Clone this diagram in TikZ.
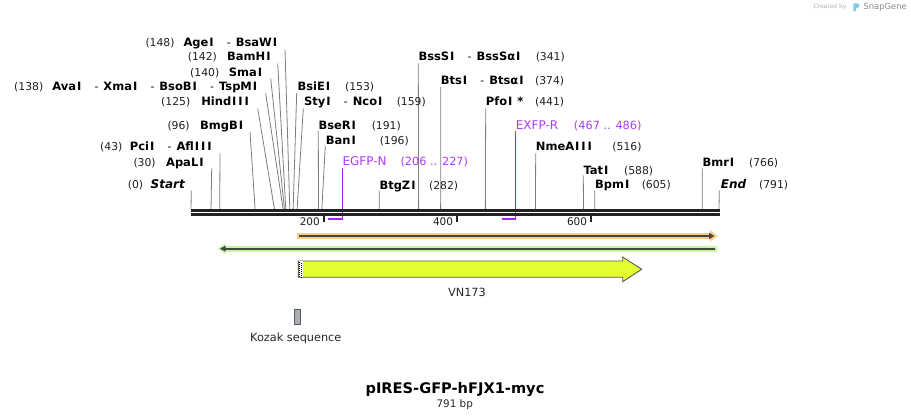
\documentclass[tikz,border=0pt]{standalone}
\usepackage{fontspec}
\setmainfont{DejaVu Sans}
\definecolor{cutc}{RGB}{125,125,125}
\definecolor{bbc}{RGB}{34,34,34}
\definecolor{prim}{RGB}{160,40,240}
\definecolor{primt}{RGB}{170,60,250}
\definecolor{orf}{RGB}{250,205,130}
\definecolor{grf}{RGB}{200,245,160}
\definecolor{dkf}{RGB}{70,70,70}
\definecolor{yel}{RGB}{225,255,50}
\definecolor{yb}{RGB}{90,90,90}
\definecolor{kz}{RGB}{170,174,182}
\definecolor{sglogo}{RGB}{125,205,245}
\newcommand\sepdash{\hspace{12.3pt}{\mdseries\fontsize{10.8}{13}\selectfont -}\hspace{5pt}}
\newcommand\wideI{\kern0.95pt I\kern0.95pt}
\newcommand\cutsite[4]{%
  \coordinate (#1t) at (#2,#3);
  \coordinate (#1b) at ({191+0.6675*#4},209);
  \draw[cutln] (#1t) -- (#1b);}
\tikzset{
  nm/.style={inner sep=0pt, font=\fontsize{11.5}{14}\selectfont\bfseries},
  nmi/.style={inner sep=0pt, font=\fontsize{12}{14}\selectfont\bfseries\itshape},
  num/.style={inner sep=0pt, font=\fontsize{10.8}{13}\selectfont, text=black!88},
  pnm/.style={inner sep=0pt, font=\fontsize{12}{14}\selectfont, text=primt},
  pnum/.style={inner sep=0pt, font=\fontsize{11.3}{13}\selectfont, text=primt},
  cutln/.style={draw=cutc, line width=0.8pt},
  primln/.style={draw=prim, line width=1.5pt},
  bbline/.style={draw=bbc, line width=2.6pt},
  tickln/.style={draw=bbc, line width=2pt},
  plain/.style={inner sep=0pt, font=\fontsize{11.3}{13}\selectfont, text=black!85}
}
\begin{document}
\begin{tikzpicture}[x=1pt,y=-1pt]
\useasboundingbox (0,0) rectangle (911,419);

% ---------- primers (under backbone) ----------
\coordinate (pEt) at (342.3,168.3);
\coordinate (pEc) at (342.3,219);
\coordinate (pEl) at (328,219);
\draw[primln] (pEt) -- (pEc) -- (pEl);
\coordinate (pRt) at (515.7,130.7);
\coordinate (pRc) at (515.7,219);
\coordinate (pRl) at (502,219);
\draw[primln] (pRt) -- (pRc) -- (pRl);

% ---------- cut site lines ----------
\cutsite{c148}{285}{49.5}{148}
\cutsite{c142}{277.7}{63.5}{142}
\cutsite{c140}{270.7}{78.5}{140}
\cutsite{c138}{265.7}{93.5}{138}
\cutsite{c125}{257.7}{108.5}{125}
\cutsite{c96}{250}{132}{96}
\cutsite{c43}{220}{153.5}{43}
\cutsite{c30}{211.7}{168.5}{30}
\cutsite{c0}{191.3}{190.7}{0}
\cutsite{c153}{296.7}{93}{153}
\cutsite{c159}{303.3}{108.3}{159}
\cutsite{c191}{318.3}{131}{191}
\cutsite{c196}{325.3}{146}{196}
\cutsite{c282}{379.3}{190.5}{282}
\cutsite{c341}{418.3}{63.5}{341}
\cutsite{c374}{440.7}{87}{374}
\cutsite{c441}{485.7}{108.5}{441}
\cutsite{c516}{535.7}{153.5}{516}
\cutsite{c588}{583.3}{175.5}{588}
\cutsite{c605}{594.7}{190.3}{605}
\cutsite{c766}{702.3}{168.5}{766}
\cutsite{c791}{719.3}{190.5}{791}

% ---------- backbone ----------
\coordinate (bbL1) at (191,210.3);
\coordinate (bbR1) at (720,210.3);
\coordinate (bbL2) at (191,214.3);
\coordinate (bbR2) at (720,214.3);
\draw[bbline] (bbL1) -- (bbR1);
\draw[bbline] (bbL2) -- (bbR2);

% ticks
\draw[tickln] (323.8,215.5) -- (323.8,221.7);
\draw[tickln] (457.2,215.5) -- (457.2,221.7);
\draw[tickln] (591,215.5) -- (591,221.7);
\node[num, font=\fontsize{10.5}{12}\selectfont, anchor=base east] (t200) at (320,225.7) {200};
\node[num, font=\fontsize{10.5}{12}\selectfont, anchor=base east] (t400) at (453.3,225.7) {400};
\node[num, font=\fontsize{10.5}{12}\selectfont, anchor=base east] (t600) at (587.3,225.7) {600};

% ---------- left labels ----------
\node[num, anchor=base west] (n148) at (145.3,47) {(148)};
\node[nm, anchor=base east] (l148) at (278.3,47) {Age\wideI\sepdash BsaW\wideI};
\node[num, anchor=base west] (n142) at (187.7,61) {(142)};
\node[nm, anchor=base east] (l142) at (271.7,61) {BamH\wideI};
\node[num, anchor=base west] (n140) at (190,76.6) {(140)};
\node[nm, anchor=base east] (l140) at (263.3,76.6) {Sma\wideI};
\node[num, anchor=base west] (n138) at (14,91) {(138)};
\node[nm, anchor=base east] (l138) at (258.3,91) {Ava\wideI\sepdash Xma\wideI\sepdash BsoB\wideI\sepdash TspM\wideI};
\node[num, anchor=base west] (n125) at (161,106) {(125)};
\node[nm, anchor=base east] (l125) at (250,106) {Hind\wideI\wideI\wideI};
\node[num, anchor=base west] (n96) at (167.3,130) {(96)};
\node[nm, anchor=base east] (l96) at (244.3,130) {BmgB\wideI};
\node[num, anchor=base west] (n43) at (100,151) {(43)};
\node[nm, anchor=base east] (l43) at (212.7,151) {Pci\wideI\sepdash Afl\wideI\wideI\wideI};
\node[num, anchor=base west] (n30) at (133.3,166.6) {(30)};
\node[nm, anchor=base east] (l30) at (204.7,166.6) {ApaL\wideI};
\node[num, anchor=base west] (n0) at (127.7,188.6) {(0)};
\node[nmi, anchor=base east] (l0) at (185,188.6) {Start};

% ---------- right labels ----------
\node[nm, anchor=base west] (l153) at (297.3,91) {BsiE\wideI};
\node[num, anchor=base east] (n153) at (374.3,91) {(153)};
\node[nm, anchor=base west] (l159) at (304,106) {Sty\wideI\sepdash Nco\wideI};
\node[num, anchor=base east] (n159) at (426,106) {(159)};
\node[nm, anchor=base west] (l191) at (318.3,129.3) {BseR\wideI};
\node[num, anchor=base east] (n191) at (401,129.3) {(191)};
\node[nm, anchor=base west] (l196) at (325.7,144.3) {Ban\wideI};
\node[num, anchor=base east] (n196) at (409,144.3) {(196)};
\node[pnm, anchor=base west] (lEG) at (342.3,166) {EGFP-N};
\node[pnum, anchor=base east] (nEG) at (468.3,166) {(206 .. 227)};
\node[nm, anchor=base west] (l282) at (379.3,189.3) {BtgZ\wideI};
\node[num, anchor=base east] (n282) at (458.3,189.3) {(282)};
\node[nm, anchor=base west] (l341) at (418.3,61) {BssS\wideI\sepdash BssSα\wideI};
\node[num, anchor=base east] (n341) at (565,61) {(341)};
\node[nm, anchor=base west] (l374) at (440.7,84.3) {Bts\wideI\sepdash Btsα\wideI};
\node[num, anchor=base east] (n374) at (564.3,84.3) {(374)};
\node[nm, anchor=base west] (l441) at (485.7,106) {Pfo\wideI\ *};
\node[num, anchor=base east] (n441) at (564.3,106) {(441)};
\node[pnm, anchor=base west] (lEX) at (515.7,129.3) {EXFP-R};
\node[pnum, anchor=base east] (nEX) at (641.7,129.3) {(467 .. 486)};
\node[nm, anchor=base west] (l516) at (535.7,151) {NmeA\wideI\wideI\wideI};
\node[num, anchor=base east] (n516) at (641.7,151) {(516)};
\node[nm, anchor=base west] (l588) at (583.3,174.3) {Tat\wideI};
\node[num, anchor=base east] (n588) at (653.3,174.3) {(588)};
\node[nm, anchor=base west] (l605) at (595,188.8) {Bpm\wideI};
\node[num, anchor=base east] (n605) at (671,188.8) {(605)};
\node[nm, anchor=base west] (l766) at (702.3,167) {Bmr\wideI};
\node[num, anchor=base east] (n766) at (778.3,167) {(766)};
\node[nmi, anchor=base west] (l791) at (720.7,188.6) {End};
\node[num, anchor=base east] (n791) at (788.3,188.6) {(791)};

% ---------- features ----------
% orange forward feature
\fill[orf] (297.3,233.3) rectangle (710,238.7);
\fill[orf] (710,230) -- (717.3,236) -- (710,241.7) -- cycle;
\draw[dkf, line width=2pt] (299.3,236) -- (710,236);
\fill[dkf] (709,232.7) -- (714.3,236) -- (709,239.3) -- cycle;
% green reverse feature
\fill[grf] (225.7,246) rectangle (717,251.7);
\fill[grf] (225.7,243.3) -- (217.7,248.7) -- (225.7,254.3) -- cycle;
\draw[dkf, line width=2pt] (225,248.7) -- (715,248.7);
\fill[dkf] (225.5,245.7) -- (220,248.7) -- (225.5,251.7) -- cycle;
% yellow VN173
\draw[fill=yel, draw=yb, line width=0.9pt] (298.3,261) -- (622.7,261) -- (622.7,257) -- (641.7,269.3) -- (622.7,281.7) -- (622.7,277.3) -- (298.3,277.3) -- cycle;
\fill[white] (299,261.5) rectangle (303.2,276.8);
\foreach \i in {0,...,7} {
  \fill[black] (299.2,{261.6+2*\i}) rectangle +(1,1);
  \fill[black] (301.2,{262.6+2*\i}) rectangle +(1,1);
}
\node[plain, anchor=base] (vn) at (467,296.3) {VN173};

% Kozak
\draw[fill=kz, draw=yb, line width=0.8pt] (294.3,309.3) rectangle (300.7,324.3);
\node[plain, anchor=base] (koz) at (295.8,341.6) {Kozak sequence};

% title
\node[inner sep=0pt, font=\fontsize{14.6}{17}\selectfont\bfseries, anchor=base] (title) at (455,393.6) {pIRES-GFP-hFJX1-myc};
\node[inner sep=0pt, font=\fontsize{10.4}{12}\selectfont, text=black!85, anchor=base] (bp) at (454.7,407.1) {791 bp};

% watermark
\node[inner sep=0pt, font=\fontsize{6}{7}\selectfont, text=black!30, anchor=west] (cb) at (813.3,7.3) {Created by};
\fill[sglogo, rounded corners=1pt] (853.3,3.3) -- (858.5,3.3) -- (859.8,5.5) -- (858.5,7.8) -- (855.8,7.8) -- (855.8,11.7) -- (853.3,11.7) -- cycle;
\node[inner sep=0pt, font=\fontsize{8.4}{10}\selectfont, text=black!45, anchor=west] (sg) at (863.3,7.3) {SnapGene};
\end{tikzpicture}
\end{document}
